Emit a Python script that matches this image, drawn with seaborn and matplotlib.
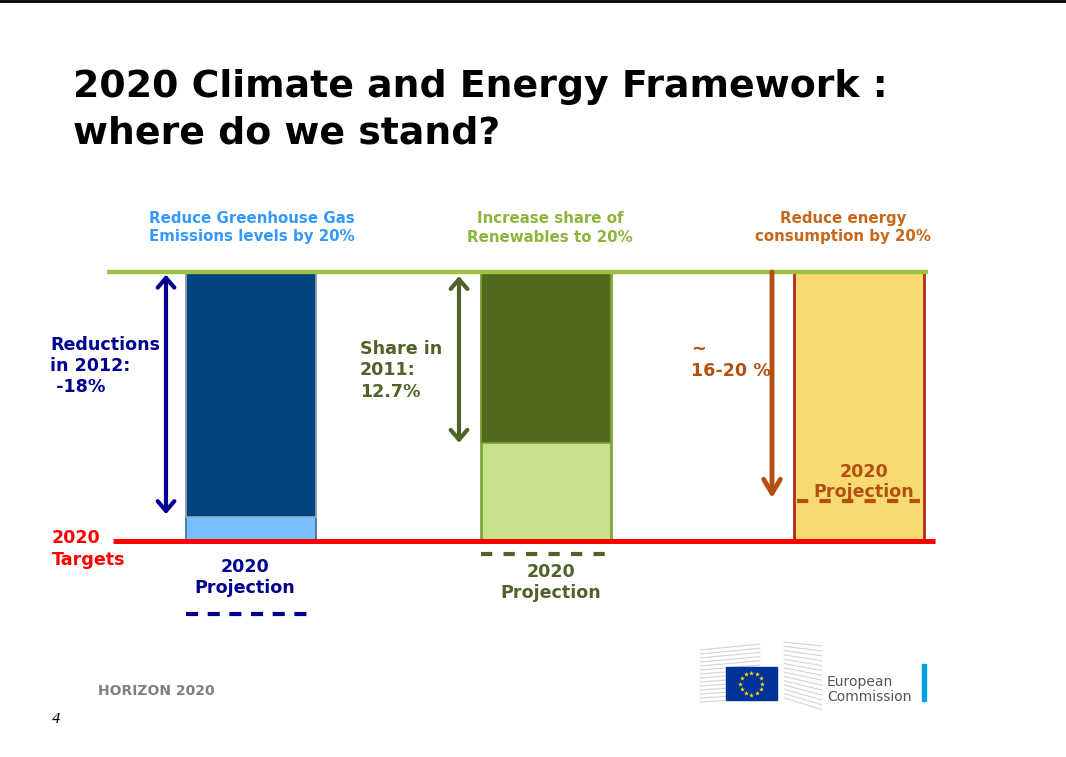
import matplotlib
matplotlib.use("Agg")
import matplotlib.pyplot as plt
import numpy as np
import pandas as pd
import seaborn as sns

# ---------------- data ----------------
categories = ["Greenhouse gas emissions", "Renewables share", "Energy consumption"]
target_pct = [20, 20, 20]                 # distance from baseline to 2020 target
achieved_pct = [18.2, 12.7]               # GHG reduction 2012, renewables share 2011
arrow_pct = [18.0, 12.7, 16.8]            # annotated progress (-18 %, 12.7 %, ~16-20 %)
projection_pct = [25.4, 21.0, 17.0]       # 2020 projection marks

header_texts = ["Reduce Greenhouse Gas\nEmissions levels by 20%",
                "Increase share of\nRenewables to 20%",
                "Reduce energy\nconsumption by 20%"]

# ---------------- style ----------------
sns.set_theme(style="white")
plt.rcParams["font.family"] = ["DejaVu Sans"]

W, H = 1066, 757
fig = plt.figure(figsize=(W / 100, H / 100), dpi=100)
ax = fig.add_axes([0, 0, 1, 1])

bar_x = [0, 1, 2.061]
X0, XS = 251, 295          # px of x=0, px per x unit
Y0, YS = 272, 13.45        # px of y=0, px per % point

light_cols = ["#79BFFF", "#C6E08B", "#F7DB72"]
dark_cols = ["#004480", "#50691E"]
edge_full = ["#3A6E9E", "#7CA63A", "#B52A1A"]

df_full = pd.DataFrame({"x": bar_x, "pct": target_pct, "cat": categories})
sns.barplot(data=df_full, x="x", y="pct", hue="cat", native_scale=True,
            palette=dict(zip(categories, light_cols)), width=0.444,
            errorbar=None, legend=False, ax=ax, saturation=1)
for cont, ec in zip(ax.containers, edge_full):
    for p in cont:
        p.set_edgecolor(ec)
        p.set_linewidth(2 if ec != "#3A6E9E" else 1.2)

n_before = len(ax.containers)
df_dark = pd.DataFrame({"x": bar_x[:2], "pct": achieved_pct, "cat": categories[:2]})
sns.barplot(data=df_dark, x="x", y="pct", hue="cat", native_scale=True,
            palette=dict(zip(categories[:2], dark_cols)), width=0.444,
            errorbar=None, legend=False, ax=ax, saturation=1)
for cont, ec in zip(ax.containers[n_before:], ["#9AAABB", "#7CA63A"]):
    for p in cont:
        p.set_edgecolor(ec)
        p.set_linewidth(1.2)

def dx(px):
    return (px - X0) / XS

# baseline and target lines
ax.hlines(0, dx(107), dx(928), color="#9BC43C", lw=3.2, zorder=5)
ax.hlines(20, dx(113), dx(935), color="#FF0000", lw=3.6, zorder=6)

# arrows
navy = "#000090"
olive = "#4F6228"
brown = "#B4500F"
ax.annotate("", xy=(dx(166), arrow_pct[0]), xytext=(dx(166), 0.2),
            arrowprops=dict(arrowstyle="<->,head_length=0.35,head_width=0.3",
                            lw=3, color=navy, shrinkA=0, shrinkB=0,
                            mutation_scale=20), zorder=7)
ax.annotate("", xy=(dx(459), arrow_pct[1]), xytext=(dx(459), 0.3),
            arrowprops=dict(arrowstyle="<->,head_length=0.35,head_width=0.3",
                            lw=3, color=olive, shrinkA=0, shrinkB=0,
                            mutation_scale=20), zorder=7)
ax.annotate("", xy=(dx(772), arrow_pct[2]), xytext=(dx(772), 0),
            arrowprops=dict(arrowstyle="->,head_length=0.5,head_width=0.3",
                            lw=3.5, color=brown, shrinkA=0, shrinkB=0,
                            mutation_scale=20), zorder=7)

# projection dashes
ax.hlines(projection_pct[0], dx(186), dx(312), color=navy, lw=3,
          linestyles=(0, (2.9, 2.3)), zorder=7)
ax.hlines(projection_pct[1], dx(481), dx(606), color=olive, lw=3,
          linestyles=(0, (2.7, 2.7)), zorder=7)
ax.hlines(projection_pct[2], dx(797), dx(920), color=brown, lw=3,
          linestyles=(0, (2.7, 2.7)), zorder=7)

ax.set_xlim(dx(0), dx(W))
ax.set_ylim((H - Y0) / YS, -Y0 / YS)
ax.axis("off")

# ---------------- texts ----------------
def ftxt(xpx, ypx, s, **kw):
    fig.text(xpx / W, 1 - ypx / H, s, va="baseline", **kw)

def lines(xpx, ypx, txt, step, **kw):
    for i, s in enumerate(txt.split("\n")):
        ftxt(xpx, ypx + i * step, s, **kw)

# top border
fig.add_artist(plt.Line2D([0, 1], [1 - 1 / H, 1 - 1 / H], color="black", lw=2))

ftxt(73, 97, "2020 Climate and Energy Framework :", fontsize=27.3,
     fontweight="bold", color="black")
ftxt(73, 143, "where do we stand?", fontsize=27.3, fontweight="bold",
     color="black")

hdr_cols = ["#3399FF", "#8DB53C", "#C8661A"]
hdr_x = [252, 550, 843]
for t, c, xx in zip(header_texts, hdr_cols, hdr_x):
    lines(xx, 223, t, 18.5, ha="center", fontsize=10.8, fontweight="bold", color=c)

big = dict(fontsize=12.6, fontweight="bold")
lines(50, 349.5, "Reductions\nin 2012:\n -18%", 21, color=navy, **big)
lines(360, 354, "Share in\n2011:\n12.7%", 21.3, color=olive, **big)
lines(691, 354, "~\n16-20 %", 21.5, color=brown, **big)
lines(52, 543, "2020\nTargets", 22, color="#FF0000", **big)
lines(245, 572, "2020\nProjection", 21.3, ha="center", color=navy, **big)
lines(551, 577, "2020\nProjection", 21, ha="center", color=olive, **big)
lines(864, 476.7, "2020\nProjection", 20, ha="center", color=brown, **big)

ftxt(98, 695, "HORIZON 2020", fontsize=10, fontweight="bold", color="#808080")
ftxt(52, 723, "4", fontsize=10, style="italic", color="black")

# ---------------- logo ----------------
lax = fig.add_axes([690 / W, 1 - 710 / H, 250 / W, 75 / H])
lax.set_xlim(690, 940)
lax.set_ylim(710, 635)
lax.axis("off")
for i in range(14):
    yy = 648 + i * 4
    lax.plot([700, 760], [yy + 2, yy - 4 + i * 0.2], color="#D3D3D3", lw=0.8)
for i in range(14):
    yy = 642 + i * 4.3
    lax.plot([784, 822], [yy, yy + 4 + i * 0.6], color="#D3D3D3", lw=0.8)
lax.add_patch(plt.Rectangle((726, 667), 51, 33, color="#003399", zorder=3))
ang = np.linspace(0, 2 * np.pi, 13)[:-1]
lax.scatter(751.5 + 11 * np.cos(ang), 683.5 + 11 * np.sin(ang), marker="*",
            s=14, color="#FFDD00", zorder=4, linewidths=0)
lax.text(827, 686, "European", fontsize=10, color="#555555", va="baseline")
lax.text(827, 701, "Commission", fontsize=10, color="#555555", va="baseline")
lax.add_patch(plt.Rectangle((922, 664), 4, 37, color="#00A0E3", zorder=3))

fig.savefig("out.png", dpi=100, facecolor="white")
